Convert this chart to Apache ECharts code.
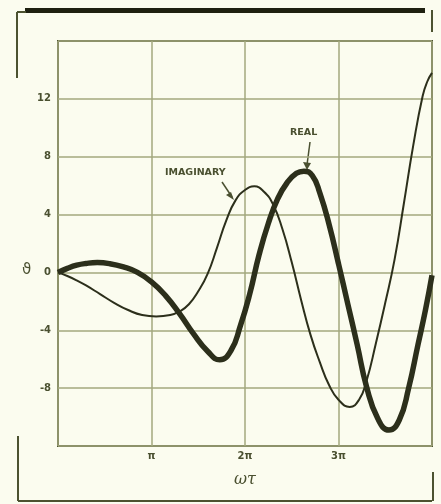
<!DOCTYPE html>
<html>
<head>
<meta charset="utf-8">
<script src="https://cdn.jsdelivr.net/npm/echarts@6/dist/echarts.min.js"></script>
<style>
html,body{margin:0;padding:0;background:#fbfcef;}
#chart{width:441px;height:504px;}
</style>
</head>
<body>
<div id="chart"></div>
<script>
// omega*tau in units of pi
var realX = [0,0.1,0.2,0.3,0.42,0.55,0.7,0.85,1.0,1.15,1.3,1.45,1.6,1.73,1.85,1.95,2.05,2.15,2.25,2.35,2.45,2.55,2.63,2.72,2.8,2.9,3.0,3.1,3.2,3.3,3.42,3.54,3.65,3.75,3.85,3.93,4.0];
var realY = [0,0.28,0.5,0.62,0.68,0.61,0.38,0.0,-0.65,-1.6,-2.85,-4.25,-5.45,-6.04,-5.4,-3.7,-1.5,1.2,3.4,5.1,6.2,6.85,7.0,6.7,5.5,3.3,0.6,-2.2,-5.0,-7.9,-10.1,-10.9,-10.2,-8.0,-5.0,-2.6,-0.2];
var imagX = [0,0.1,0.2,0.3,0.45,0.6,0.75,0.9,1.05,1.2,1.3,1.4,1.5,1.6,1.7,1.8,1.9,2.0,2.1,2.2,2.3,2.4,2.5,2.6,2.7,2.8,2.9,3.0,3.12,3.22,3.3,3.4,3.5,3.6,3.7,3.8,3.9,3.95,4.0];
var imagY = [0,-0.25,-0.55,-0.9,-1.5,-2.1,-2.6,-2.95,-3.05,-2.95,-2.7,-2.2,-1.3,-0.1,1.7,3.6,5.0,5.7,5.95,5.6,4.7,3.0,0.7,-1.9,-4.3,-6.2,-7.8,-8.8,-9.3,-8.8,-7.5,-4.9,-2.1,0.9,4.8,8.8,12.2,13.2,13.8];
var xTickLabels = {1:'π',2:'2π',3:'3π'};
var yTickValues = [-8,-4,0,4,8,12];

var ink = '#2c2f1b';
var gridCol = '#a3a87e';
var frameCol = '#4c5230';
var textCol = '#4a5030';

function pairs(xs, ys){ return xs.map(function(x,i){ return [x, ys[i]]; }); }

var chart = echarts.init(document.getElementById('chart'), null, {renderer:'canvas'});
chart.setOption({
  backgroundColor: '#fbfcef',
  animation: false,
  grid: {left:58, top:41, width:374, height:405, show:true, borderColor:frameCol, borderWidth:2, backgroundColor:'transparent'},
  xAxis: {
    type:'value', min:0, max:4, interval:1,
    name:'ωτ', nameLocation:'middle', nameGap:26,
    nameTextStyle:{color:textCol, fontFamily:'DejaVu Serif', fontStyle:'italic', fontSize:16},
    axisLine:{show:false}, axisTick:{show:false},
    axisLabel:{margin:5, color:textCol, fontFamily:'DejaVu Sans', fontWeight:'bold', fontSize:10,
      formatter:function(v){ return xTickLabels[Math.round(v)] || ''; }},
    splitLine:{show:true, lineStyle:{color:gridCol, width:1.5}}
  },
  yAxis: {
    type:'value', min:-12, max:16, interval:4,
    axisLine:{show:false}, axisTick:{show:false},
    axisLabel:{margin:7, color:textCol, fontFamily:'DejaVu Sans', fontWeight:'bold', fontSize:10,
      formatter:function(v){ return yTickValues.indexOf(v) >= 0 ? String(v) : ''; }},
    splitLine:{show:true, lineStyle:{color:gridCol, width:1.5}}
  },
  series: [
    {name:'IMAGINARY', type:'line', smooth:0.5, symbol:'none', data:pairs(imagX, imagY),
      lineStyle:{color:ink, width:2}, z:3},
    {name:'REAL', type:'line', smooth:0.5, symbol:'none', data:pairs(realX, realY),
      lineStyle:{color:ink, width:5.5}, z:4}
  ],
  graphic: [
    // scan frame decorations
    {type:'rect', shape:{x:25, y:8, width:400, height:5}, style:{fill:'#1e2010'}},
    {type:'line', shape:{x1:17, y1:12, x2:17, y2:78}, style:{stroke:frameCol, lineWidth:2}},
    {type:'line', shape:{x1:17, y1:12, x2:26, y2:12}, style:{stroke:frameCol, lineWidth:2}},
    {type:'line', shape:{x1:432, y1:10, x2:432, y2:32}, style:{stroke:frameCol, lineWidth:2}},
    {type:'line', shape:{x1:18, y1:436, x2:18, y2:501}, style:{stroke:frameCol, lineWidth:2}},
    {type:'line', shape:{x1:18, y1:501, x2:432, y2:501}, style:{stroke:frameCol, lineWidth:2}},
    {type:'line', shape:{x1:433, y1:472, x2:433, y2:501}, style:{stroke:frameCol, lineWidth:2}},
    // y axis name
    {type:'text', left:22, top:263, style:{text:'ϑ', fill:textCol, font:'15px DejaVu Sans'}},
    // annotations
    {type:'text', left:165, top:168, style:{text:'IMAGINARY', fill:textCol, font:'bold 9.5px DejaVu Sans'}},
    {type:'line', shape:{x1:222, y1:182, x2:232, y2:197}, style:{stroke:textCol, lineWidth:1.5}},
    {type:'polygon', shape:{points:[[234,200],[226,195],[231,192]]}, style:{fill:textCol}},
    {type:'text', left:290, top:128, style:{text:'REAL', fill:textCol, font:'bold 9.5px DejaVu Sans'}},
    {type:'line', shape:{x1:310, y1:142, x2:307, y2:165}, style:{stroke:textCol, lineWidth:1.5}},
    {type:'polygon', shape:{points:[[307,170],[303,162],[311,163]]}, style:{fill:textCol}}
  ]
});
</script>
</body>
</html>
